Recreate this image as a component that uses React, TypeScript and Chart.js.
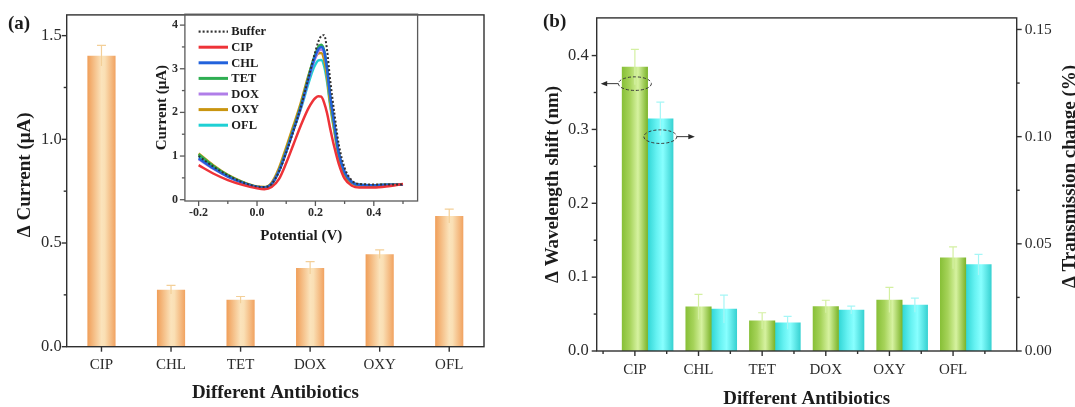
import React, { useEffect, useRef } from 'react';
import { Chart, registerables } from 'chart.js';

Chart.register(...registerables);

const SERIF = "'Liberation Serif', 'Times New Roman', Times, serif";

// ---------------- data ----------------
const antibiotics = ['CIP', 'CHL', 'TET', 'DOX', 'OXY', 'OFL'];

// panel (a): DPV current change
const currentChange = [1.403, 0.275, 0.226, 0.38, 0.446, 0.63];
const currentChangeErr = [0.05, 0.021, 0.016, 0.03, 0.021, 0.033];

// panel (b): wavelength shift (left axis) and transmission change (right axis)
const wavelengthShift = [0.3845, 0.0598, 0.0408, 0.0602, 0.0691, 0.1262];
const wavelengthShiftErr = [0.024, 0.017, 0.011, 0.0085, 0.017, 0.0147];
const transmissionChange = [0.1083, 0.0196, 0.0132, 0.0191, 0.0214, 0.0403];
const transmissionChangeErr = [0.0078, 0.0065, 0.003, 0.0018, 0.0033, 0.0048];

// inset: DPV curves
const potentialV = [-0.2, -0.15, -0.1, -0.05, 0, 0.025, 0.05, 0.075, 0.1, 0.125, 0.15, 0.175, 0.19, 0.2, 0.21, 0.22, 0.23, 0.24, 0.25, 0.265, 0.28, 0.3, 0.325, 0.35, 0.4, 0.45, 0.5];
const dpvBuffer = [1.0, 0.76, 0.56, 0.4, 0.3, 0.29, 0.36, 0.64, 1.08, 1.58, 2.12, 2.76, 3.16, 3.4, 3.62, 3.75, 3.77, 3.42, 2.78, 1.98, 1.27, 0.73, 0.44, 0.36, 0.35, 0.35, 0.35];
const dpvCIP = [0.79, 0.6, 0.45, 0.34, 0.26, 0.24, 0.29, 0.47, 0.84, 1.27, 1.7, 2.08, 2.25, 2.33, 2.37, 2.36, 2.22, 1.98, 1.65, 1.2, 0.82, 0.48, 0.32, 0.28, 0.28, 0.31, 0.36];
const dpvCHL = [0.95, 0.72, 0.53, 0.39, 0.29, 0.28, 0.36, 0.65, 1.1, 1.6, 2.12, 2.74, 3.1, 3.3, 3.45, 3.5, 3.4, 3.0, 2.42, 1.72, 1.07, 0.63, 0.4, 0.34, 0.33, 0.34, 0.34];
const dpvTET = [1.04, 0.77, 0.56, 0.4, 0.29, 0.28, 0.36, 0.66, 1.12, 1.62, 2.15, 2.78, 3.15, 3.34, 3.5, 3.55, 3.42, 3.0, 2.4, 1.7, 1.05, 0.62, 0.4, 0.34, 0.33, 0.34, 0.34];
const dpvDOX = [0.93, 0.71, 0.53, 0.39, 0.29, 0.28, 0.36, 0.65, 1.1, 1.6, 2.1, 2.72, 3.06, 3.25, 3.4, 3.44, 3.36, 2.98, 2.42, 1.74, 1.08, 0.64, 0.41, 0.34, 0.33, 0.34, 0.34];
const dpvOXY = [1.06, 0.79, 0.57, 0.41, 0.3, 0.29, 0.39, 0.72, 1.2, 1.7, 2.22, 2.82, 3.12, 3.27, 3.35, 3.36, 3.2, 2.8, 2.24, 1.6, 0.99, 0.58, 0.38, 0.33, 0.33, 0.34, 0.34];
const dpvOFL = [1.0, 0.75, 0.55, 0.4, 0.29, 0.28, 0.37, 0.67, 1.12, 1.6, 2.08, 2.64, 2.95, 3.1, 3.19, 3.2, 3.06, 2.7, 2.18, 1.56, 0.98, 0.58, 0.38, 0.33, 0.33, 0.34, 0.34];

// axis ticks
const aYMajor = [0, 0.5, 1.0, 1.5];
const aYMinor = [0.25, 0.75, 1.25];
const bYMajor = [0, 0.1, 0.2, 0.3, 0.4];
const bYMinor = [0.05, 0.15, 0.25, 0.35];
const bY1Major = [0, 0.05, 0.1, 0.15];
const bY1Minor = [0.025, 0.075, 0.125];
const bXMinor = [0.5, 1.5, 2.5, 3.5, 4.5, 5.5, 6.5];
const insetXMajor = [-0.2, 0, 0.2, 0.4];
const insetXMinor = [-0.1, 0.1, 0.3, 0.5];
const insetYMajor = [0, 1, 2, 3, 4];
const insetYMinor = [0.5, 1.5, 2.5, 3.5];

// arrows/ellipses marking which axis a bar series belongs to
const hintWavelengthY = 0.362;
const hintTransmissionY = 0.1;

// ---------------- styles ----------------
const PAIR_OFFSET = 0.4;
const orangeStops: [number, string][] = [[0, '#f09e58'], [0.5, '#fbe3bb'], [0.62, '#fadfb4'], [1, '#f1a260']];
const greenStops: [number, string][] = [[0, '#88c038'], [0.3, '#a6d35a'], [0.62, '#d6f2a0'], [1, '#7db52c']];
const cyanStops: [number, string][] = [[0, '#30d6d6'], [0.35, '#66f2f2'], [0.6, '#88ffff'], [1, '#38d2d2']];

const insetSeries = [
  { name: 'Buffer', values: dpvBuffer, color: '#333333', dash: [2, 2] },
  { name: 'CIP', values: dpvCIP, color: '#ee3338', dash: [] },
  { name: 'CHL', values: dpvCHL, color: '#2262dc', dash: [] },
  { name: 'TET', values: dpvTET, color: '#2fae52', dash: [] },
  { name: 'DOX', values: dpvDOX, color: '#b07ee8', dash: [] },
  { name: 'OXY', values: dpvOXY, color: '#c99510', dash: [] },
  { name: 'OFL', values: dpvOFL, color: '#1fd0d4', dash: [] },
];

type TickSpec = { scaleId: string; side: 'left' | 'right' | 'bottom'; major: number[]; minor: number[] };

function framePlugin(specs: TickSpec[], color: string, lw: number) {
  return {
    id: 'frameTicks',
    afterDatasetsDraw(chart: any) {
      const { ctx, chartArea: a } = chart;
      ctx.save();
      ctx.strokeStyle = color;
      ctx.lineWidth = lw;
      ctx.strokeRect(a.left, a.top, a.right - a.left, a.bottom - a.top);
      for (const s of specs) {
        const sc = chart.scales[s.scaleId];
        const draw = (v: number, len: number) => {
          const p = sc.getPixelForValue(v);
          ctx.beginPath();
          if (s.side === 'bottom') {
            ctx.moveTo(p, a.bottom);
            ctx.lineTo(p, a.bottom + len);
          } else if (s.side === 'left') {
            ctx.moveTo(a.left, p);
            ctx.lineTo(a.left - len, p);
          } else {
            ctx.moveTo(a.right, p);
            ctx.lineTo(a.right + len, p);
          }
          ctx.stroke();
        };
        s.major.forEach((v) => draw(v, 5));
        s.minor.forEach((v) => draw(v, 3));
      }
      ctx.restore();
    },
  };
}

type ErrSpec = { datasetIndex: number; values: number[]; errors: number[]; color: string; cap: number };

function errorBarPlugin(specs: ErrSpec[]) {
  return {
    id: 'errorBars',
    afterDatasetsDraw(chart: any) {
      const ctx = chart.ctx;
      for (const s of specs) {
        const meta = chart.getDatasetMeta(s.datasetIndex);
        const ys = chart.scales[meta.yAxisID];
        meta.data.forEach((el: any, i: number) => {
          const top = ys.getPixelForValue(s.values[i] + s.errors[i]);
          const bot = ys.getPixelForValue(s.values[i] - s.errors[i]);
          ctx.save();
          ctx.strokeStyle = s.color;
          ctx.lineWidth = 1.2;
          ctx.beginPath();
          ctx.moveTo(el.x, bot);
          ctx.lineTo(el.x, top);
          ctx.moveTo(el.x - s.cap, top);
          ctx.lineTo(el.x + s.cap, top);
          ctx.stroke();
          ctx.restore();
        });
      }
    },
  };
}

type TextItem = { text: string; font: string; pos: (a: any) => [number, number]; rotate?: number; align?: CanvasTextAlign };

function textPlugin(items: TextItem[]) {
  return {
    id: 'texts',
    afterDraw(chart: any) {
      const ctx = chart.ctx;
      for (const t of items) {
        const [x, y] = t.pos(chart.chartArea);
        ctx.save();
        ctx.translate(x, y);
        if (t.rotate) ctx.rotate(t.rotate);
        ctx.font = t.font;
        ctx.fillStyle = '#1c1c1c';
        ctx.textAlign = t.align || 'center';
        ctx.textBaseline = 'middle';
        ctx.fillText(t.text, 0, 0);
        ctx.restore();
      }
    },
  };
}

function gradientFill(chart: any, cx: number, w: number, stops: [number, string][]) {
  if (!isFinite(cx) || !isFinite(w) || w <= 0) return stops[1][1];
  const g = chart.ctx.createLinearGradient(cx - w / 2, 0, cx + w / 2, 0);
  stops.forEach(([o, c]) => g.addColorStop(o, c));
  return g;
}

const hiddenGrid = { display: false, drawTicks: false };
const titleFont = `bold 19px ${SERIF}`;

export default function App() {
  const aRef = useRef<HTMLCanvasElement>(null);
  const insetRef = useRef<HTMLCanvasElement>(null);
  const bRef = useRef<HTMLCanvasElement>(null);

  useEffect(() => {
    Chart.defaults.font.family = SERIF;
    Chart.defaults.color = '#2b2b2b';
    const BAR_FRAC = 0.405;

    // ---------- panel (a) ----------
    const chartA = new Chart(aRef.current as HTMLCanvasElement, {
      type: 'bar',
      data: {
        labels: antibiotics,
        datasets: [
          {
            label: 'Δ Current',
            data: currentChange,
            categoryPercentage: 1,
            barPercentage: BAR_FRAC,
            backgroundColor: (c: any) => {
              const xs = c.chart.scales.x;
              if (c.type !== 'data' || !xs) return orangeStops[1][1];
              const w = (xs.width / antibiotics.length) * BAR_FRAC;
              return gradientFill(c.chart, xs.getPixelForValue(c.dataIndex), w, orangeStops);
            },
          },
        ],
      },
      options: {
        animation: false,
        responsive: false,
        events: [],
        layout: { padding: { left: 0, top: 10, right: 56, bottom: 0 } },
        plugins: { legend: { display: false }, tooltip: { enabled: false } },
        scales: {
          x: {
            type: 'category',
            offset: true,
            grid: hiddenGrid,
            border: { display: false },
            ticks: { font: { family: SERIF, size: 15 }, padding: 9, autoSkip: false, maxRotation: 0 },
            afterFit: (s: any) => { s.height = 60.3; },
          },
          y: {
            min: 0,
            max: 1.6,
            grid: hiddenGrid,
            border: { display: false },
            ticks: {
              stepSize: 0.5,
              includeBounds: false,
              font: { family: SERIF, size: 16.5 },
              padding: 5,
              callback: (v: any) => Number(v).toFixed(1),
            },
            afterFit: (s: any) => { s.width = 66.7; },
          },
        },
      } as any,
      plugins: [
        errorBarPlugin([{ datasetIndex: 0, values: currentChange, errors: currentChangeErr, color: '#f3cf98', cap: 4.5 }]),
        framePlugin(
          [
            { scaleId: 'x', side: 'bottom', major: antibiotics.map((_, i) => i), minor: [] },
            { scaleId: 'y', side: 'left', major: aYMajor, minor: aYMinor },
          ],
          '#303030',
          1.4
        ),
        textPlugin([
          { text: '(a)', font: `bold 19px ${SERIF}`, pos: () => [8, 24], align: 'left' },
          { text: 'Δ Current (μA)', font: titleFont, pos: (a) => [a.left - 41.7, (a.top + a.bottom) / 2 - 6], rotate: -Math.PI / 2 },
          { text: 'Different Antibiotics', font: titleFont, pos: (a) => [(a.left + a.right) / 2, 393.3] },
        ]),
      ],
    });

    // ---------- inset ----------
    const inset = new Chart(insetRef.current as HTMLCanvasElement, {
      type: 'line',
      data: {
        datasets: insetSeries.map((s) => ({
          label: s.name,
          data: potentialV.map((x, i) => ({ x, y: s.values[i] })),
          borderColor: s.color,
          borderWidth: s.dash.length ? 2 : 2.5,
          borderDash: s.dash,
          pointRadius: 0,
          cubicInterpolationMode: 'monotone',
          fill: false,
        })),
      },
      options: {
        animation: false,
        responsive: false,
        events: [],
        layout: { padding: { left: 0, top: 13.3, right: 22.4, bottom: 0 } },
        plugins: { legend: { display: false }, tooltip: { enabled: false } },
        scales: {
          x: {
            type: 'linear',
            min: -0.247,
            max: 0.55,
            grid: hiddenGrid,
            border: { display: false },
            ticks: {
              stepSize: 0.2,
              includeBounds: false,
              font: { family: SERIF, size: 12, weight: 'bold' },
              padding: 5,
              callback: (v: any) => Number(v).toFixed(1),
            },
            afterFit: (s: any) => { s.height = 49; },
          },
          y: {
            min: -0.03,
            max: 4.25,
            grid: hiddenGrid,
            border: { display: false },
            ticks: {
              stepSize: 1,
              includeBounds: false,
              font: { family: SERIF, size: 12, weight: 'bold' },
              padding: 7,
              callback: (v: any) => String(Math.round(Number(v))),
            },
            afterFit: (s: any) => { s.width = 44.9; },
          },
        },
      } as any,
      plugins: [
        framePlugin(
          [
            { scaleId: 'x', side: 'bottom', major: insetXMajor, minor: insetXMinor },
            { scaleId: 'y', side: 'left', major: insetYMajor, minor: insetYMinor },
          ],
          '#5a5a5a',
          1.3
        ),
        {
          id: 'insetLegend',
          afterDatasetsDraw(chart: any) {
            const { ctx, chartArea: a } = chart;
            insetSeries.forEach((s, i) => {
              const y = a.top + 17.4 + i * 15.6;
              ctx.save();
              ctx.strokeStyle = s.color;
              ctx.lineWidth = s.dash.length ? 2.2 : 3;
              ctx.setLineDash(s.dash);
              ctx.beginPath();
              ctx.moveTo(a.left + 13.7, y);
              ctx.lineTo(a.left + 43.1, y);
              ctx.stroke();
              ctx.setLineDash([]);
              ctx.font = `bold 12.5px ${SERIF}`;
              ctx.fillStyle = '#1c1c1c';
              ctx.textAlign = 'left';
              ctx.textBaseline = 'middle';
              ctx.fillText(s.name, a.left + 46.4, y + 0.5);
              ctx.restore();
            });
          },
        },
        textPlugin([
          { text: 'Current (μA)', font: `bold 15px ${SERIF}`, pos: (a) => [a.left - 23.1, (a.top + a.bottom) / 2], rotate: -Math.PI / 2 },
          { text: 'Potential (V)', font: `bold 15px ${SERIF}`, pos: (a) => [(a.left + a.right) / 2, a.bottom + 34.7] },
        ]),
      ],
    });

    // ---------- panel (b) ----------
    const chartB = new Chart(bRef.current as HTMLCanvasElement, {
      type: 'bar',
      data: {
        datasets: [
          {
            label: 'Δ Wavelength shift',
            data: wavelengthShift.map((v, i) => ({ x: i + 1, y: v })),
            yAxisID: 'y',
            grouped: false,
            categoryPercentage: 1,
            barPercentage: 1,
            backgroundColor: (c: any) => {
              const xs = c.chart.scales.x;
              if (c.type !== 'data' || !xs) return greenStops[1][1];
              const w = xs.getPixelForValue(1 + PAIR_OFFSET) - xs.getPixelForValue(1);
              return gradientFill(c.chart, xs.getPixelForValue(c.dataIndex + 1), w, greenStops);
            },
          },
          {
            label: 'Δ Transmission change',
            data: transmissionChange.map((v, i) => ({ x: i + 1 + PAIR_OFFSET, y: v })),
            yAxisID: 'y1',
            grouped: false,
            categoryPercentage: 1,
            barPercentage: 1,
            backgroundColor: (c: any) => {
              const xs = c.chart.scales.x;
              if (c.type !== 'data' || !xs) return cyanStops[1][1];
              const w = xs.getPixelForValue(1 + PAIR_OFFSET) - xs.getPixelForValue(1);
              return gradientFill(c.chart, xs.getPixelForValue(c.dataIndex + 1 + PAIR_OFFSET), w, cyanStops);
            },
          },
        ],
      },
      options: {
        animation: false,
        responsive: false,
        events: [],
        layout: { padding: { left: 0, top: 11.7, right: 0, bottom: 0 } },
        plugins: { legend: { display: false }, tooltip: { enabled: false } },
        scales: {
          x: {
            type: 'linear',
            offset: false,
            min: 0.4,
            max: 7,
            grid: { display: false, drawTicks: false, offset: false },
            border: { display: false },
            ticks: {
              stepSize: 1,
              includeBounds: false,
              font: { family: SERIF, size: 15 },
              padding: 10,
              autoSkip: false,
              maxRotation: 0,
              callback: (v: any) => antibiotics[Math.round(Number(v)) - 1] ?? '',
            },
            afterFit: (s: any) => { s.height = 56; },
          },
          y: {
            position: 'left',
            min: 0,
            max: 0.451,
            grid: hiddenGrid,
            border: { display: false },
            ticks: {
              stepSize: 0.1,
              includeBounds: false,
              font: { family: SERIF, size: 16.5 },
              padding: 8,
              callback: (v: any) => Number(v).toFixed(1),
            },
            afterFit: (s: any) => { s.width = 56.7; },
          },
          y1: {
            position: 'right',
            min: 0,
            max: 0.1554,
            grid: hiddenGrid,
            border: { display: false },
            ticks: {
              stepSize: 0.05,
              includeBounds: false,
              font: { family: SERIF, size: 15.5 },
              padding: 8,
              callback: (v: any) => Number(v).toFixed(2),
            },
            afterFit: (s: any) => { s.width = 58.3; },
          },
        },
      } as any,
      plugins: [
        errorBarPlugin([
          { datasetIndex: 0, values: wavelengthShift, errors: wavelengthShiftErr, color: '#d4f0a2', cap: 4 },
          { datasetIndex: 1, values: transmissionChange, errors: transmissionChangeErr, color: '#a6f6f6', cap: 4 },
        ]),
        framePlugin(
          [
            { scaleId: 'x', side: 'bottom', major: antibiotics.map((_, i) => i + 1), minor: bXMinor },
            { scaleId: 'y', side: 'left', major: bYMajor, minor: bYMinor },
            { scaleId: 'y1', side: 'right', major: bY1Major, minor: bY1Minor },
          ],
          '#303030',
          1.4
        ),
        {
          id: 'axisHints',
          afterDatasetsDraw(chart: any) {
            const { ctx, chartArea: a, scales } = chart;
            const drawHint = (cx: number, cy: number, dir: number) => {
              const rx = 16.5;
              ctx.save();
              ctx.strokeStyle = '#3a3a3a';
              ctx.fillStyle = '#2a2a2a';
              ctx.lineWidth = 1;
              ctx.setLineDash([3, 2]);
              ctx.beginPath();
              ctx.ellipse(cx, cy, rx, 6.8, 0, 0, Math.PI * 2);
              ctx.stroke();
              ctx.setLineDash([]);
              const sx = cx + dir * rx;
              const ex = dir < 0 ? a.left + 4 : sx + 18;
              ctx.beginPath();
              ctx.moveTo(sx, cy);
              ctx.lineTo(ex - dir * 5, cy);
              ctx.stroke();
              ctx.beginPath();
              ctx.moveTo(ex, cy);
              ctx.lineTo(ex - dir * 6.5, cy - 2.6);
              ctx.lineTo(ex - dir * 6.5, cy + 2.6);
              ctx.closePath();
              ctx.fill();
              ctx.restore();
            };
            drawHint(scales.x.getPixelForValue(1), scales.y.getPixelForValue(hintWavelengthY), -1);
            drawHint(scales.x.getPixelForValue(1 + PAIR_OFFSET), scales.y1.getPixelForValue(hintTransmissionY), 1);
          },
        },
        textPlugin([
          { text: '(b)', font: `bold 19px ${SERIF}`, pos: () => [3, 22], align: 'left' },
          { text: 'Δ Wavelength shift (nm)', font: titleFont, pos: (a) => [a.left - 43.7, (a.top + a.bottom) / 2], rotate: -Math.PI / 2 },
          { text: 'Δ Transmission change (%)', font: titleFont, pos: (a) => [a.right + 53, (a.top + a.bottom) / 2 - 8], rotate: -Math.PI / 2 },
          { text: 'Different Antibiotics', font: titleFont, pos: (a) => [(a.left + a.right) / 2, 399.3] },
        ]),
      ],
    });

    return () => {
      chartA.destroy();
      inset.destroy();
      chartB.destroy();
    };
  }, []);

  return (
    <div style={{ position: 'absolute', left: 0, top: 0, width: 1075, height: 407, background: '#ffffff', overflow: 'hidden' }}>
      <canvas ref={aRef} width={540} height={407} style={{ position: 'absolute', left: 0, top: 0 }} />
      <canvas ref={bRef} width={535} height={407} style={{ position: 'absolute', left: 540, top: 0 }} />
      <canvas ref={insetRef} width={300} height={250} style={{ position: 'absolute', left: 140, top: 0 }} />
    </div>
  );
}
